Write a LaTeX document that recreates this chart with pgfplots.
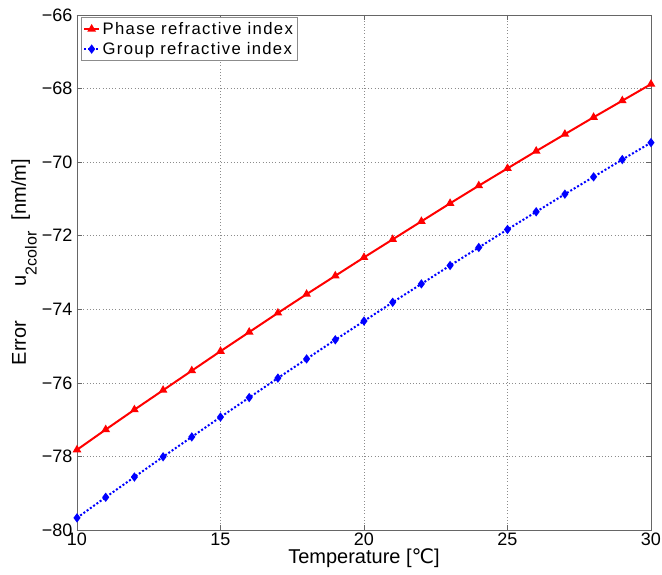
\documentclass[border=0pt]{standalone}
\usepackage{fontspec}
\setmainfont{Liberation Sans}
\newfontfamily\dv{DejaVu Sans}
\newfontfamily\legfont[LetterSpace=8]{Liberation Sans}
\usepackage{pgfplots}
\pgfplotsset{compat=1.18}

% error vs temperature (1 px = 0.75 pt)
\pgfplotstableread{
T phase group
10 -77.82 -79.67
11 -77.27 -79.11
12 -76.73 -78.56
13 -76.20 -78.01
14 -75.67 -77.47
15 -75.14 -76.93
16 -74.62 -76.40
17 -74.10 -75.87
18 -73.59 -75.35
19 -73.09 -74.83
20 -72.59 -74.32
21 -72.10 -73.81
22 -71.61 -73.31
23 -71.12 -72.81
24 -70.64 -72.32
25 -70.17 -71.83
26 -69.70 -71.35
27 -69.24 -70.87
28 -68.78 -70.40
29 -68.33 -69.93
30 -67.88 -69.47
}\errdata

\begin{document}
\begin{tikzpicture}
\path[use as bounding box] (-57.75pt,-33.75pt) rectangle (438.75pt,397.5pt);
\begin{axis}[
  name=ax, at={(0,0)}, anchor=south west,
  scale only axis, width=430.5pt, height=386.25pt,
  xmin=10, xmax=30, ymin=-80, ymax=-66,
  xtick={10,15,20,25,30}, xticklabels={10,15,20,25,30},
  ytick={-80,-78,-76,-74,-72,-70,-68,-66},
  yticklabels={−80,−78,−76,−74,−72,−70,−68,−66},
  tick label style={font=\fontsize{13.5}{13.5}\selectfont},
  xticklabel style={yshift=1.5pt},
  tick align=inside, tick pos=both, major tick length=4pt,
  tick style={black!60, line width=0.5pt},
  grid=major, grid style={dotted, black!45, line width=0.5pt},
  axis line style={black!60, line width=0.6pt},
  xlabel={Temperature [{\dv ℃}]},
  xlabel style={at={(axis description cs:0.5,0)}, anchor=base, yshift=-25.5pt,
    font=\fontsize{15}{15}\selectfont},
  ylabel={Error\hspace{26pt}u\raisebox{-8pt}{\fontsize{12}{12}\selectfont 2color}\hspace{8.5pt}[nm/m]},
  ylabel style={at={(axis description cs:0,0.52)}, anchor=base, yshift=38.25pt,
    font=\fontsize{15}{15}\selectfont},
  legend style={at={(0,1)}, anchor=north west, xshift=3pt, yshift=-1.5pt,
    draw=black!45, line width=0.5pt, inner sep=1.5pt, row sep=0.5pt,
    font=\legfont\fontsize{12.5}{15}\selectfont},
  legend cell align=left,
  legend image code/.code={\draw[mark repeat=2, mark phase=2, #1]
    plot coordinates {(0pt,0pt) (5.5pt,0pt) (11pt,0pt)};},
]
\addplot[red, line width=1.5pt, mark=triangle*, mark size=2.3pt,
  mark options={solid}] table[x=T, y=phase] {\errdata};
\addlegendentry{Phase refractive index}
\addplot[blue, line width=1.5pt, dash pattern=on 1.5pt off 1.5pt,
  mark=diamond*, mark size=2.3pt, mark options={solid}]
  table[x=T, y=group] {\errdata};
\addlegendentry{Group refractive index}
\end{axis}
\end{tikzpicture}
\end{document}
